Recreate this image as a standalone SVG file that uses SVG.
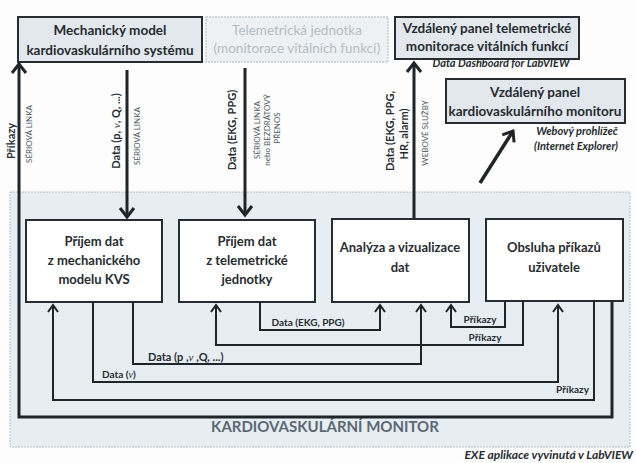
<svg xmlns="http://www.w3.org/2000/svg" width="636" height="463" viewBox="0 0 636 463">
<style>
text{font-family:Lato,"Open Sans","Liberation Sans",sans-serif;font-weight:bold;fill:#262c30}
.c{text-anchor:middle}
.top{fill:#e2e8ed;stroke:#262d31;stroke-width:2}
.inner{fill:#ffffff;stroke:#262d31;stroke-width:2}
.t12{font-size:13.5px}
.t13{font-size:13px}
.t11{font-size:11px}
.t10{font-size:10px}
.sm{font-size:8px;font-weight:normal;fill:#4d5963}
.it{font-style:italic;font-size:11px}
.thick{fill:none;stroke:#1f2528;stroke-width:3}
.thin{fill:none;stroke:#1f2528;stroke-width:2}
.nu{font-family:"Liberation Serif",serif;font-style:italic;font-weight:normal}
</style>
<defs>
<marker id="ah" markerUnits="userSpaceOnUse" markerWidth="24" markerHeight="24" viewBox="-12 -12 24 24" refX="0" refY="0" orient="auto">
<path d="M-9,-7 L0,0 L-9,7" fill="none" stroke="#1f2528" stroke-width="3"/>
</marker>
<marker id="as" markerUnits="userSpaceOnUse" markerWidth="20" markerHeight="20" viewBox="-10 -10 20 20" refX="0" refY="0" orient="auto">
<path d="M-7,-5 L0,0 L-7,5" fill="none" stroke="#1f2528" stroke-width="2"/>
</marker>
</defs>
<rect x="0" y="0" width="636" height="463" fill="#fdfdfd"/>

<g id="monitor">
<rect x="10" y="192" width="620" height="255" fill="#e6edf3" stroke="#b3bec7" stroke-width="1" stroke-dasharray="2,1"/>
<text class="c" x="325" y="432" style="font-size:15px;fill:#5b6872">KARDIOVASKULÁRNÍ MONITOR</text>
<text x="633" y="459" class="it" style="text-anchor:end;font-size:12px">EXE aplikace vyvinutá v LabVIEW</text>
</g>

<g id="mech-model">
<rect class="top" x="18" y="17" width="184" height="45"/>
<text class="c t12" x="110" y="35">Mechanický model</text>
<text class="c t12" x="110" y="55">kardiovaskulárního systému</text>
</g>

<g id="telemetry-unit">
<rect x="206" y="17" width="182" height="45" fill="#eef1f3" stroke="#c3cace" stroke-width="1.5" stroke-dasharray="2,1"/>
<text class="c t12" x="297" y="35" style="fill:#b4bcc3;font-weight:normal">Telemetrická jednotka</text>
<text class="c t12" x="297" y="53" style="fill:#b4bcc3;font-weight:normal">(monitorace vitálních funkcí)</text>
</g>

<g id="remote-telemetry">
<rect class="top" x="395" y="17" width="184" height="42"/>
<text class="c t12" x="487" y="33">Vzdálený panel telemetrické</text>
<text class="c t12" x="487" y="51">monitorace vitálních funkcí</text>
<text class="c it" x="501" y="67">Data Dashboard for LabVIEW</text>
</g>

<g id="remote-cardio">
<rect class="top" x="446" y="79" width="179" height="44"/>
<text class="c t12" x="535" y="97">Vzdálený panel</text>
<text class="c t12" x="535" y="116">kardiovaskulárního monitoru</text>
<text class="c it" x="577" y="135">Webový prohlížeč</text>
<text class="c it" x="576" y="150">(Internet Explorer)</text>
</g>

<g id="rx-mech">
<rect class="inner" x="26" y="220" width="136" height="82"/>
<text class="c t13" x="94" y="246">Příjem dat</text>
<text class="c t13" x="94" y="265">z mechanického</text>
<text class="c t13" x="94" y="284">modelu KVS</text>
</g>

<g id="rx-tele">
<rect class="inner" x="179" y="220" width="136" height="82"/>
<text class="c t13" x="247" y="246">Příjem dat</text>
<text class="c t13" x="247" y="265">z telemetrické</text>
<text class="c t13" x="247" y="284">jednotky</text>
</g>

<g id="analysis">
<rect class="inner" x="332" y="219" width="137" height="83"/>
<text class="c t13" x="400" y="252">Analýza a vizualizace</text>
<text class="c t13" x="400" y="272">dat</text>
</g>

<g id="commands">
<rect class="inner" x="486" y="219" width="137" height="82"/>
<text class="c t13" x="554" y="252">Obsluha příkazů</text>
<text class="c t13" x="554" y="272">uživatele</text>
</g>

<g id="connectors">
<path class="thick" d="M612,302 V417 H19 V64" marker-end="url(#ah)"/>
<text class="t11" transform="translate(15,141) rotate(-90)" text-anchor="middle">Příkazy</text>
<text class="sm" transform="translate(32,134) rotate(-90)" text-anchor="middle">SÉRIOVÁ LINKA</text>

<path class="thick" d="M127,70 V217" marker-end="url(#ah)"/>
<text class="t11" transform="translate(120,131) rotate(-90)" text-anchor="middle">Data (p, <tspan class="nu">ν</tspan>, Q, ...)</text>
<text class="sm" transform="translate(140,136) rotate(-90)" text-anchor="middle">SÉRIOVÁ LINKA</text>

<path class="thick" d="M245,68 V215" marker-end="url(#ah)"/>
<text class="t11" transform="translate(236,130) rotate(-90)" text-anchor="middle">Data (EKG, PPG)</text>
<text class="sm" transform="translate(260,130) rotate(-90)" text-anchor="middle">SÉRIOVÁ LINKA</text>
<text class="sm" transform="translate(270,130) rotate(-90)" text-anchor="middle">nebo BEZDRÁTOVÝ</text>
<text class="sm" transform="translate(280,128) rotate(-90)" text-anchor="middle">PŘENOS</text>

<path class="thick" d="M414,218 V63" marker-end="url(#ah)"/>
<text class="t11" transform="translate(394,131) rotate(-90)" text-anchor="middle">Data (EKG, PPG,</text>
<text class="t11" transform="translate(408,134) rotate(-90)" text-anchor="middle">HR, alarm)</text>
<text class="sm" transform="translate(428,133) rotate(-90)" text-anchor="middle">WEBOVÉ SLUŽBY</text>

<path d="M480,183 L513,131" fill="none" stroke="#1f2528" stroke-width="3.5" marker-end="url(#ah)"/>

<path class="thin" d="M260,302 V330 H380 V305" marker-end="url(#as)"/>
<text class="c t10" x="308" y="326">Data (EKG, PPG)</text>

<path class="thin" d="M505,301 V327 H451 V305" marker-end="url(#as)"/>
<text class="c t10" x="480" y="323">Příkazy</text>

<path class="thin" d="M523,301 V345 H216 V305" marker-end="url(#as)"/>
<text class="c t10" x="485" y="341">Příkazy</text>

<path class="thin" d="M133,302 V364 H421 V305" marker-end="url(#as)"/>
<text class="t11" x="148" y="361">Data (p ,<tspan class="nu">ν</tspan> ,Q, ...)</text>

<path class="thin" d="M93,302 V382 H558 V305" marker-end="url(#as)"/>
<text class="t10" x="102" y="378">Data (<tspan class="nu">ν</tspan>)</text>

<path class="thin" d="M594,301 V400 H53 V305" marker-end="url(#as)"/>
<text class="t10" x="589" y="393" style="text-anchor:end">Příkazy</text>
</g>
</svg>
